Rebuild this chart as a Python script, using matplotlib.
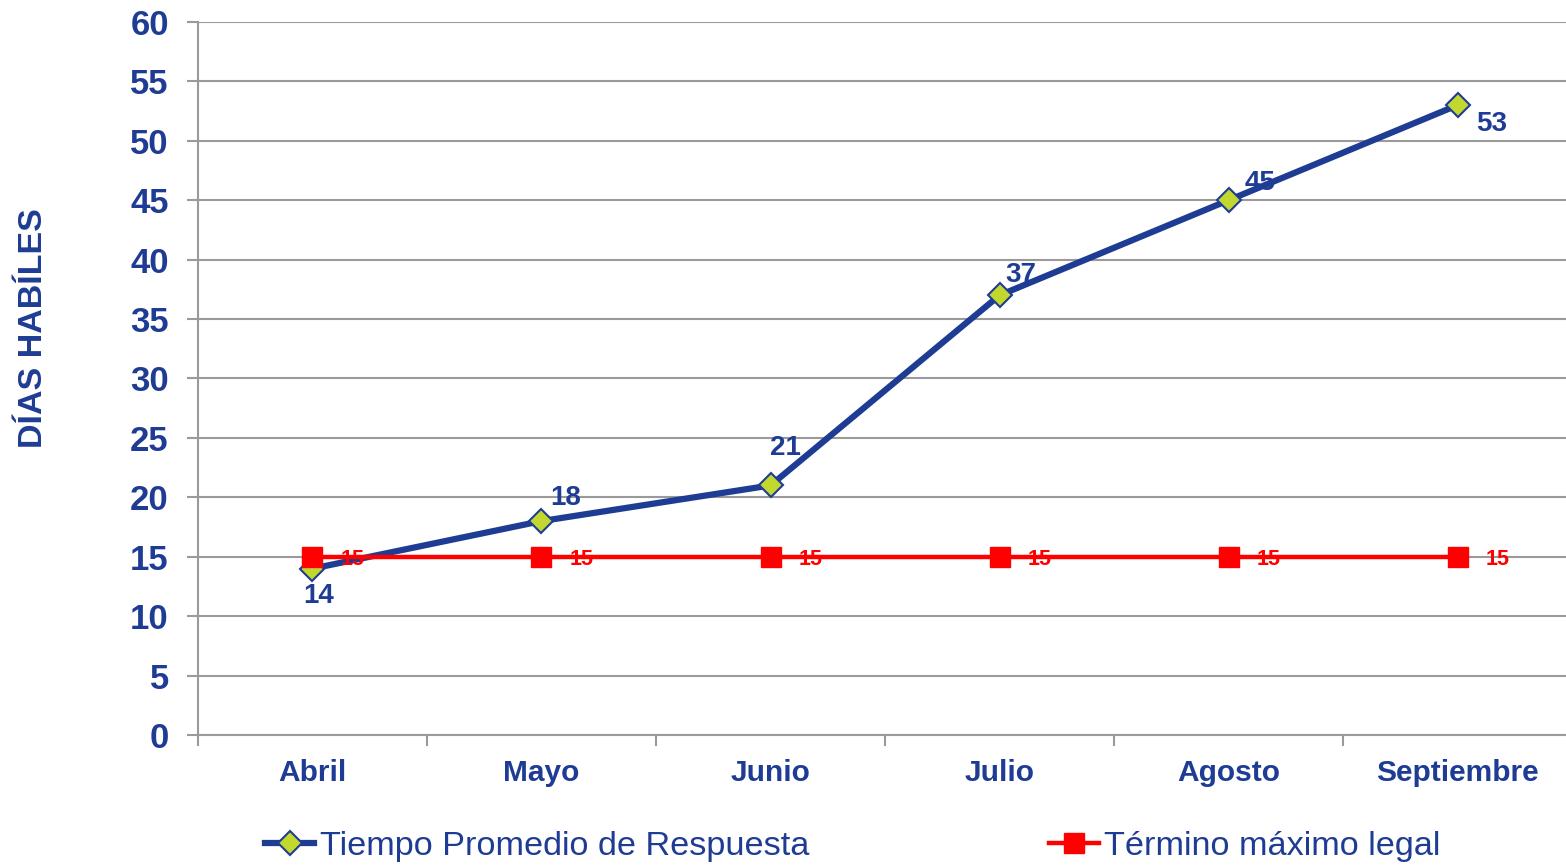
import matplotlib
matplotlib.use("Agg")
import matplotlib.pyplot as plt
from matplotlib.ticker import MultipleLocator, FixedLocator, NullFormatter

# datos
meses = ["Abril", "Mayo", "Junio", "Julio", "Agosto", "Septiembre"]
tiempo_promedio = [14, 18, 21, 37, 45, 53]
termino_legal = [15, 15, 15, 15, 15, 15]

AZUL = "#1F3C94"
VERDE = "#C3D82E"
ROJO = "#FF0000"
GRIS = "#9A9A9A"

plt.rcParams["font.family"] = ["Liberation Sans", "DejaVu Sans"]

fig = plt.figure(figsize=(15.66, 8.65), dpi=100)
ax = fig.add_axes([0.1264, 0.1503, 0.8775, 0.8243])

x = list(range(len(meses)))
ax.plot(x, tiempo_promedio, color=AZUL, lw=4.5, marker="D", ms=12,
        mfc=VERDE, mec=AZUL, mew=1.5, zorder=3,
        label="Tiempo Promedio de Respuesta")
ax.plot(x, termino_legal, color=ROJO, lw=3.2, marker="s", ms=14,
        mfc=ROJO, mec=ROJO, zorder=4, label="Término máximo legal")

# etiquetas de datos (desplazamiento en pixeles)
offs_azul = [(6, -27), (24, 23), (15, 37), (21, 20), (31, 17), (34, -19)]
for xi, v, (dx, dy) in zip(x, tiempo_promedio, offs_azul):
    ax.annotate(str(v), (xi, v), xytext=(dx, dy), textcoords="offset pixels",
                ha="center", va="center", fontsize=20, fontweight="bold",
                color=AZUL, zorder=5)
for xi, v in zip(x, termino_legal):
    ax.annotate(str(v), (xi, v), xytext=(40, -3), textcoords="offset pixels",
                ha="center", va="center", fontsize=15.5, fontweight="bold",
                color=ROJO, zorder=5)

ax.set_xlim(-0.5, 5.5)
ax.set_ylim(0, 60)
ax.yaxis.set_major_locator(MultipleLocator(5))
ax.grid(axis="y", color=GRIS, lw=1.5)
ax.set_axisbelow(True)

ax.set_xticks(x)
ax.set_xticklabels(meses)
ax.xaxis.set_minor_locator(FixedLocator([i - 0.5 for i in range(len(meses) + 1)]))
ax.xaxis.set_minor_formatter(NullFormatter())
ax.tick_params(axis="x", which="major", length=0, pad=17, labelsize=21.5,
               labelcolor=AZUL)
ax.tick_params(axis="x", which="minor", length=8, width=1.5, color=GRIS,
               direction="out")
ax.tick_params(axis="y", length=8, width=1.5, color=GRIS, pad=13,
               labelsize=25, labelcolor=AZUL)
for lbl in ax.get_xticklabels() + ax.get_yticklabels():
    lbl.set_fontweight("bold")

for s in ["top", "right"]:
    ax.spines[s].set_visible(False)
for s in ["left", "bottom"]:
    ax.spines[s].set_color(GRIS)
    ax.spines[s].set_linewidth(1.5)

fig.text(34 / 1566, 1 - 328 / 865, "DÍAS HABÍLES", rotation=90, ha="center",
         va="center", fontsize=24.5, fontweight="bold", color=AZUL)

leg = fig.legend(loc="center", bbox_to_anchor=(0.5444, 1 - 846 / 865), ncol=2,
                 frameon=False, fontsize=24.7, handlelength=1.45,
                 handletextpad=0.15, columnspacing=7.0, borderaxespad=0)
for t in leg.get_texts():
    t.set_color(AZUL)

fig.savefig("out.png", dpi=100)
